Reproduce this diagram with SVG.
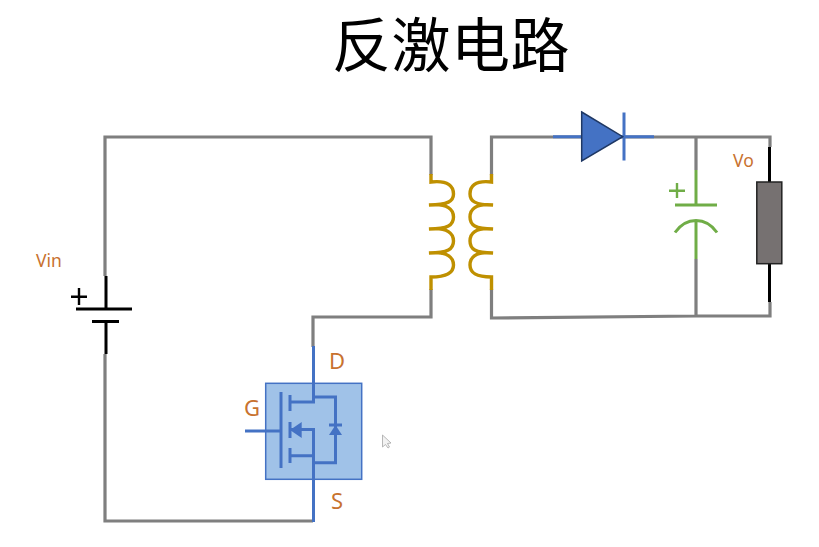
<svg xmlns="http://www.w3.org/2000/svg" width="819" height="547" viewBox="0 0 819 547">
<style>
text{font-family:"Noto Sans","Liberation Sans","Noto Sans CJK SC",sans-serif;fill:#c8722f}
.t{font-family:"Noto Sans CJK SC",sans-serif;font-size:59px;fill:#000;letter-spacing:0.500px}
.w,.k,.b,.g,.y,.p{fill:none;stroke-linecap:butt}
.w{stroke:#7f7f7f;stroke-width:3.200}
.k{stroke:#000;stroke-width:3}
.p{stroke:#000;stroke-width:2.400}
.b{stroke:#4472c4;stroke-width:3}
.g{stroke:#70ad47;stroke-width:3}
.y{stroke:#bf9000;stroke-width:3.400}
.l{font-size:17.500px}
.m{font-size:22px}
</style>
<rect width="819" height="547" fill="#fff"/>
<text class="t" x="332" y="67">反激电路</text>
<g id="connectors">
<path class="w" d="M105 276V137H431V175M431 289V317H313V347M105 354V521H313"/>
<path class="w" d="M491.500 175V137H770V147M491.500 289V318L696 316H770V302M696 137V170M696 259V316M553 137H491.500"/>
</g>
<g id="battery">
<path class="k" d="M106 276V309M76 309H132M92 321.500H119M106 321.500V354"/>
<path class="p" d="M71 296.700H87M79 288V305"/>
<text class="l" x="36" y="267">Vin</text>
</g>
<g id="transformer">
<path class="y" d="M431 174V182C449 180 453.500 187 453.500 194C453.500 201 448 205 429 205C448 203 453.500 210 453.500 217C453.500 225 448 229 429 229C448 227 453.500 234 453.500 241C453.500 249 448 253 429 253C448 251 453.500 258 453.500 265C453.500 273 447 277 431 277V290"/>
<path class="y" d="M491.500 174V182C474 180 470 187 470 194C470 201 475 205 493 205C475 203 470 210 470 217C470 225 475 229 493 229C475 227 470 234 470 241C470 249 475 253 493 253C475 251 470 258 470 265C470 273 476 277 491.500 277V290"/>
</g>
<g id="diode">
<path class="b" d="M553 136.700H654M624 112.500V160.500"/>
<path d="M581.700 112L622.700 136.700L581.700 161Z" fill="#4472c4" stroke="#1f3864" stroke-width="1.500"/>
</g>
<g id="capacitor">
<path class="g" d="M696 170V205M675 205H717M675 232.500C681 224 688 220.500 696 220.500C704 220.500 711 224 717 232.500M696 220.500V259"/>
<path class="g" style="stroke-width:2.400" d="M669 190.700H685M677 183V198"/>
</g>
<g id="resistor">
<path class="k" d="M769.500 147V182M769.500 264V302"/>
<rect x="756.800" y="182" width="25" height="81.700" fill="#767171" stroke="#222" stroke-width="1.500"/>
<text class="l" x="733" y="167">Vo</text>
</g>
<g id="mosfet">
<rect x="265.700" y="383.300" width="96" height="96" fill="#a0c2e8" stroke="#4472c4" stroke-width="1.500"/>
<path class="b" d="M313.500 346V402H290M290 395V411M290 422V438M290 448V463M281 392V468M245 431H281M290 429.500H313.500V522M290 455.700H313.500M313.500 397H335.500V462.700H313.500M329 425H342"/>
<path d="M290 430L301.700 422V438Z" fill="#4472c4"/>
<path d="M335.500 425L342 435H329Z" fill="#4472c4"/>
<text class="m" x="329" y="369">D</text>
<text class="m" x="244" y="416">G</text>
<text class="m" x="331" y="509">S</text>
</g>
<path d="M382.500 435V447L385.500 444.500L388 448L389.500 447L387.500 443.500L391 443Z" fill="#f2f2f2" stroke="#a6a6a6" stroke-width="0.800"/>
</svg>
